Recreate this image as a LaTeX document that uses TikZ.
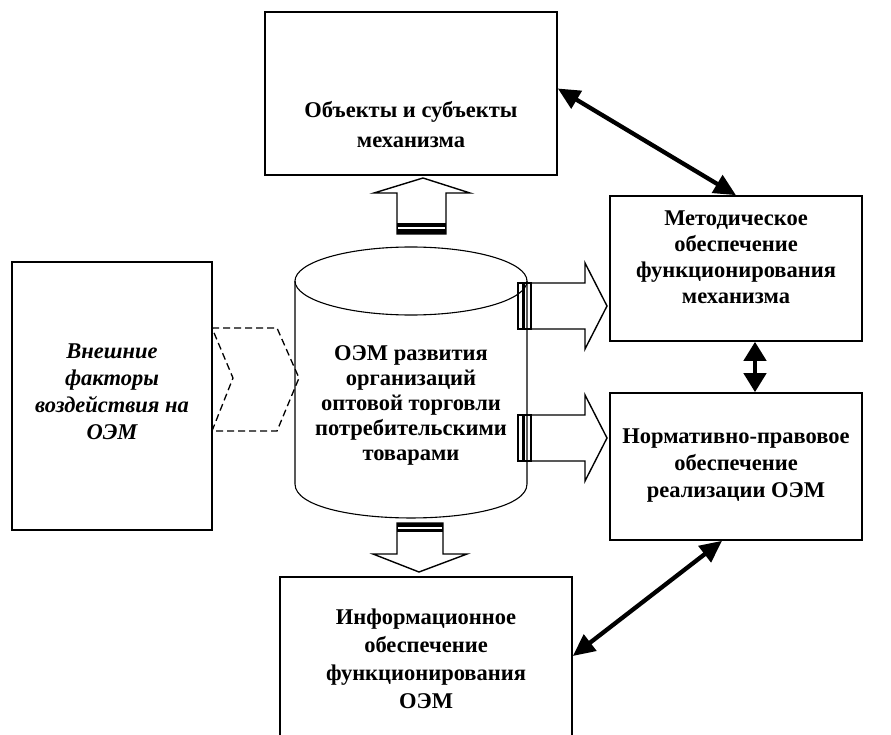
\documentclass[tikz,border=0pt]{standalone}
\usepackage{fontspec}
\setmainfont{Liberation Serif}
\usetikzlibrary{arrows.meta}

\tikzset{
    box/.style={draw, line width=1.6pt, inner sep=0pt},
    txt/.style={align=center, inner sep=0pt, font=\bfseries\fontsize{22.5}{27}\selectfont},
    blockarrow/.style={draw, line width=1.4pt, fill=white},
    dblarrow/.style={{Triangle[length=22pt,width=20pt]}-{Triangle[length=22pt,width=20pt]}, line width=4.3pt},
}

\begin{document}
\begin{tikzpicture}[x=1pt,y=-1pt]
                \useasboundingbox (0,0) rectangle (891,735);
                \clip (0,0) rectangle (891,735);
                % boxes
                \node [box, minimum width=292pt, minimum height=163pt] (obj) at (411,93.5) {};
                \node [box, minimum width=252pt, minimum height=145pt] (met) at (736,268.5) {};
                \node [box, minimum width=252pt, minimum height=147pt] (norm) at (736,466.5) {};
                \node [box, minimum width=200pt, minimum height=268pt] (ext) at (112,396) {};
                \node [box, minimum width=292pt, minimum height=170pt] (info) at (426,662) {};
                % texts
                \node [txt, font=\bfseries\fontsize{22.5}{30}\selectfont] (objtxt) at (411,125) {Объекты и субъекты\\механизма};
                \node [txt, font=\bfseries\fontsize{22.5}{26}\selectfont] (mettxt) at (736,257) {Методическое\\обеспечение\\функционирования\\механизма};
                \node [txt] (normtxt) at (736,466) {Нормативно-правовое\\обеспечение\\реализации ОЭМ};
                \node [txt, font=\bfseries\itshape\fontsize{22.5}{27}\selectfont] (exttxt) at (112,392) {Внешние\\факторы\\воздействия на\\ОЭМ};
                \node [txt, font=\bfseries\fontsize{22.5}{28}\selectfont] (infotxt) at (426,659) {Информационное\\обеспечение\\функционирования\\ОЭМ};
                % cylinder
                \draw [line width=1.1pt] (295,281) -- (295,484) .. controls (295,529.3) and (527,529.3) .. (527,484) -- (527,281);
                \draw [line width=1.1pt] (411,281) ellipse [x radius=116, y radius=34];
                \node [txt, font=\bfseries\fontsize{22.5}{25}\selectfont] (cyl) at (411,405) {ОЭМ развития\\организаций\\оптовой торговли\\потребительскими\\товарами};
                % dashed chevron
                \draw [line width=1.3pt, dash pattern=on 7pt off 4pt] (212,328) -- (277,328) -- (299,378) -- (277,431) -- (212,431) -- (233,378) -- cycle;
                % up and down block arrows
                \draw [blockarrow] (397,234) -- (397,193) -- (374,193) -- (423,178) -- (470,193) -- (446,193) -- (446,234) -- cycle;
                \fill (397,223) rectangle (446,234);
                \draw [white, line width=2pt] (398,227.7) -- (445,227.7);
                \draw [blockarrow] (397,523) -- (397,554) -- (373,554) -- (419,572) -- (467,554) -- (443,554) -- (443,523) -- cycle;
                \fill (397,523) rectangle (443,532);
                \draw [white, line width=2pt] (398,527.5) -- (442,527.5);
                % right block arrows
                \foreach \y in {306,438} {
                    \draw [line width=1.1pt] (518,\y-23) rectangle (523,\y+23);
                    \draw [line width=1.1pt] (524,\y-23) rectangle (531,\y+23);
                    \draw [line width=1.4pt] (531,\y-23) -- (585,\y-23) -- (585,\y-43) -- (607,\y) -- (585,\y+43) -- (585,\y+23) -- (531,\y+23);
                }
                % thick links
                \draw [dblarrow] ([yshift=5pt]obj.east) -- (met.north);
                \draw [dblarrow, {Triangle[length=19pt,width=22pt]}-{Triangle[length=19pt,width=22pt]}] ([xshift=19pt]met.south) -- ([xshift=19pt]norm.north);
                \draw [dblarrow] ([xshift=-14pt]norm.south) -- ([yshift=6pt]info.east);
            \end{tikzpicture}
\end{document}
